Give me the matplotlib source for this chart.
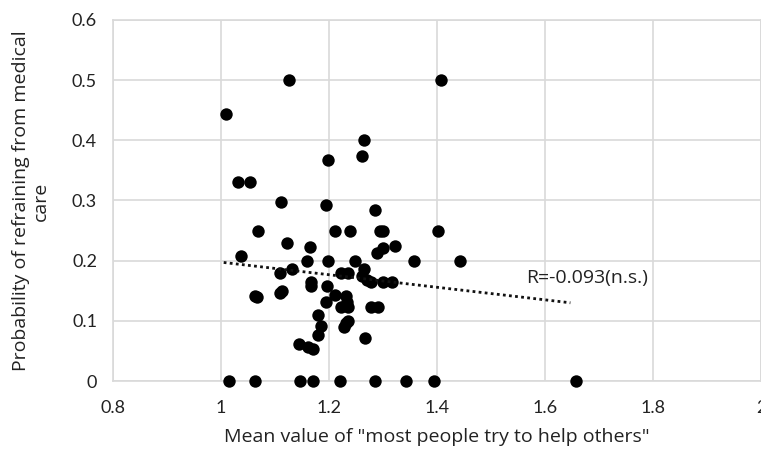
import matplotlib
matplotlib.use("Agg")
import matplotlib.pyplot as plt

x_vals = [1.126, 1.407, 1.009, 1.264, 1.261, 1.198,
          1.031, 1.054, 1.112, 1.195, 1.285,
          1.069, 1.211, 1.239, 1.294, 1.300, 1.401,
          1.123, 1.165, 1.288, 1.300, 1.323,
          1.037,
          1.160, 1.198, 1.248, 1.357, 1.443,
          1.131, 1.109, 1.222, 1.236,
          1.264, 1.262, 1.271, 1.278, 1.300, 1.316,
          1.166, 1.166, 1.197,
          1.211, 1.109, 1.113, 1.063, 1.066,
          1.194, 1.231, 1.233, 1.222, 1.236, 1.278, 1.291,
          1.180, 1.235, 1.231, 1.227, 1.185, 1.180, 1.267, 1.144, 1.162, 1.171,
          1.015, 1.063, 1.146, 1.171, 1.220, 1.286, 1.342, 1.395, 1.657]
y_vals = [0.500, 0.500, 0.444, 0.400, 0.374, 0.368,
          0.331, 0.331, 0.298, 0.293, 0.285,
          0.249, 0.249, 0.249, 0.249, 0.249, 0.249,
          0.230, 0.222, 0.213, 0.221, 0.225,
          0.208,
          0.200, 0.200, 0.200, 0.200, 0.200,
          0.186, 0.180, 0.180, 0.180,
          0.186, 0.175, 0.168, 0.165, 0.165, 0.165,
          0.165, 0.158, 0.158,
          0.143, 0.147, 0.150, 0.142, 0.139,
          0.132, 0.141, 0.132, 0.123, 0.123, 0.123, 0.123,
          0.110, 0.100, 0.096, 0.090, 0.091, 0.076, 0.071, 0.062, 0.057, 0.053,
          0.0, 0.0, 0.0, 0.0, 0.0, 0.0, 0.0, 0.0, 0.0]

trend_x = [1.005, 1.647]
trend_y = [0.197, 0.130]

x_ticks = [0.8, 1.0, 1.2, 1.4, 1.6, 1.8, 2.0]
x_tick_labels = ["0.8", "1", "1.2", "1.4", "1.6", "1.8", "2"]
y_ticks = [0, 0.1, 0.2, 0.3, 0.4, 0.5, 0.6]
y_tick_labels = ["0", "0.1", "0.2", "0.3", "0.4", "0.5", "0.6"]

annotation = "R=-0.093(n.s.)"
x_label = 'Mean value of "most people try to help others"'
y_label = "Probability of refraining from medical\ncare"

plt.rcParams['font.family'] = ['Open Sans', 'DejaVu Sans']

fig = plt.figure(figsize=(7.61, 4.53), dpi=100)
ax = fig.add_axes([113/761, 72/453, 648/761, 361/453])

grid_c = "#d9d9d9"
text_c = "#222222"
ax.set_xlim(0.8, 2.0)
ax.set_ylim(0, 0.6)
ax.set_xticks(x_ticks)
ax.set_xticklabels(x_tick_labels, family=['Lato', 'DejaVu Sans'])
ax.set_yticks(y_ticks)
ax.set_yticklabels(y_tick_labels, family=['Lato', 'DejaVu Sans'])
ax.tick_params(length=0, labelsize=13, colors=text_c)
ax.tick_params(axis='x', pad=14)
ax.tick_params(axis='y', pad=11.5)
ax.grid(True, color=grid_c, linewidth=1.2, zorder=0)
ax.set_axisbelow(True)
for s in ax.spines.values():
    s.set_color(grid_c)
    s.set_linewidth(1.2)

ax.scatter(x_vals, y_vals, s=80, color="black", zorder=3, clip_on=False, linewidths=0)
ax.plot(trend_x, trend_y, linestyle=(0, (1, 1.2)), color="#111111", linewidth=2.0, zorder=4)
ax.text(1.565, 0.171, annotation, fontsize=14, va="center", ha="left", color=text_c)

ax.set_xlabel(x_label, fontsize=14, color=text_c, va="center")
ax.xaxis.set_label_coords(0.5, (381 - 437) / 361)
fig.text(31 / 761, 1 - 201 / 453, y_label, fontsize=14, color=text_c, rotation=90,
         ha="center", va="center", multialignment="center", linespacing=1.1)

fig.savefig("out.png", dpi=100)
